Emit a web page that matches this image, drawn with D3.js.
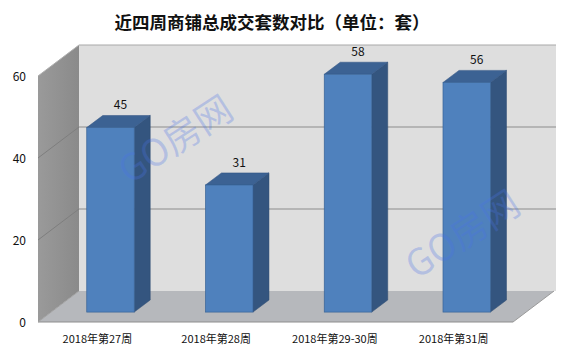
<!DOCTYPE html>
<html><head><meta charset="utf-8">
<script src="https://cdn.jsdelivr.net/npm/d3@7"></script>
<style>body{margin:0;background:#fff}svg{display:block}</style>
</head><body>
<script>
const title = "近四周商铺总成交套数对比（单位：套）";
const categories = ["2018年第27周","2018年第28周","2018年第29-30周","2018年第31周"];
const values = [45,31,58,56];
const yTicks = [0,20,40,60];
const watermark = "GO房网";

const W=568,H=355;
const svg=d3.select("body").append("svg").attr("width",W).attr("height",H);
const font='"Noto Sans CJK SC","Noto Sans",sans-serif';

const x0=38,x1=513,yBot=322,yTop=76;
const DX=41,DY=-31; // depth offset
const y=d3.scaleLinear().domain([0,60]).range([yBot,yTop]);
const x=d3.scaleBand().domain(categories).range([x0,x1]).paddingInner(0.6).paddingOuter(0.3);

const P=pts=>pts.map(p=>p.join(",")).join(" ");
svg.append("polygon").attr("points",P([[x0+DX,y(60)+DY],[x1+DX+2,y(60)+DY],[x1+DX+2,yBot+DY],[x0+DX,yBot+DY]]))
  .attr("fill","#dedede");
const lg=svg.append("defs").append("linearGradient").attr("id","lw").attr("x1",0).attr("x2",1).attr("y1",0).attr("y2",0);
lg.append("stop").attr("offset",0).attr("stop-color","#9a9a9a");
lg.append("stop").attr("offset",1).attr("stop-color","#8a8a8a");
svg.append("polygon").attr("points",P([[x0,y(60)],[x0+DX,y(60)+DY],[x0+DX,yBot+DY],[x0,yBot]]))
  .attr("fill","url(#lw)");
svg.append("polygon").attr("points",P([[x0,yBot],[x1,yBot],[x1+DX,yBot+DY],[x0+DX,yBot+DY]]))
  .attr("fill","#b6b8bc");
svg.append("line").attr("x1",x0).attr("x2",x1).attr("y1",yBot).attr("y2",yBot).attr("stroke","#8e8e8e").attr("stroke-width",1);
svg.append("line").attr("x1",x1).attr("x2",x1+DX).attr("y1",yBot).attr("y2",yBot+DY).attr("stroke","#9a9a9a").attr("stroke-width",1);

const g=svg.append("g");
yTicks.filter(t=>t>0).forEach(t=>{
  g.append("line").attr("x1",x0+DX).attr("x2",x1+DX+2).attr("y1",y(t)+DY).attr("y2",y(t)+DY)
    .attr("stroke",t===60?"#a8a8a8":"#8c8c8c").attr("stroke-width",1);
  g.append("line").attr("x1",x0).attr("x2",x0+DX).attr("y1",y(t)).attr("y2",y(t)+DY)
    .attr("stroke",t===60?"#b0b0b0":"#7e7e7e").attr("stroke-width",1);
});
g.append("line").attr("x1",x0).attr("x2",x0+DX).attr("y1",yBot).attr("y2",yBot+DY).attr("stroke","#a0a0a0");

const d0=0.32,d1=0.71;
const bw=x.bandwidth();
const bars=svg.append("g").selectAll("g").data(values).join("g");
bars.each(function(v,i){
  const gg=d3.select(this);
  const fx=x(categories[i])+d0*DX, by=yBot+d0*DY;
  const ty=y(v)+d0*DY;
  const ox=(d1-d0)*DX, oy=(d1-d0)*DY;
  gg.append("polygon").attr("points",P([[fx+bw,ty],[fx+bw+ox,ty+oy],[fx+bw+ox,by+oy],[fx+bw,by]]))
    .attr("fill","#34557f").attr("stroke","#2c4a70").attr("stroke-width",0.5);
  gg.append("polygon").attr("points",P([[fx,ty],[fx+ox,ty+oy],[fx+bw+ox,ty+oy],[fx+bw,ty]]))
    .attr("fill","#3c6293").attr("stroke","#2f5080").attr("stroke-width",0.5);
  gg.append("rect").attr("x",fx).attr("y",ty).attr("width",bw).attr("height",by-ty)
    .attr("fill","#4f81bd").attr("stroke","#3a6496").attr("stroke-width",0.7);
  gg.append("text").attr("x",fx+bw/2+ox/2+2).attr("y",ty+oy-6).attr("text-anchor","middle")
    .attr("font-family",font).attr("font-size",12).attr("fill","#111").text(v);
});

const ya=svg.append("g").attr("transform",`translate(28,1)`)
  .call(d3.axisLeft(y).tickValues(yTicks).tickSize(0).tickPadding(2));
ya.select(".domain").remove();
ya.selectAll("text").attr("font-family",font).attr("font-size",12).attr("fill","#111");

const xa=svg.append("g").attr("transform",`translate(0,${yBot})`)
  .call(d3.axisBottom(x).tickSize(0).tickPadding(13));
xa.select(".domain").remove();
xa.selectAll("text").attr("font-family",font).attr("font-size",11).attr("fill","#111");

[[174,137],[461,232]].forEach(([cx,cy])=>{
  svg.append("text").attr("transform",`translate(${cx},${cy}) rotate(-33)`)
    .attr("text-anchor","middle").attr("dominant-baseline","central")
    .attr("font-family",font).attr("font-size",37).attr("fill","#4a72e8").attr("fill-opacity",0.28)
    .text(watermark);
});

svg.append("text").attr("x",272).attr("y",29).attr("text-anchor","middle")
  .attr("font-family",font).attr("font-weight","bold").attr("font-size",17.5).attr("fill","#111")
  .text(title);
</script>
</body></html>
